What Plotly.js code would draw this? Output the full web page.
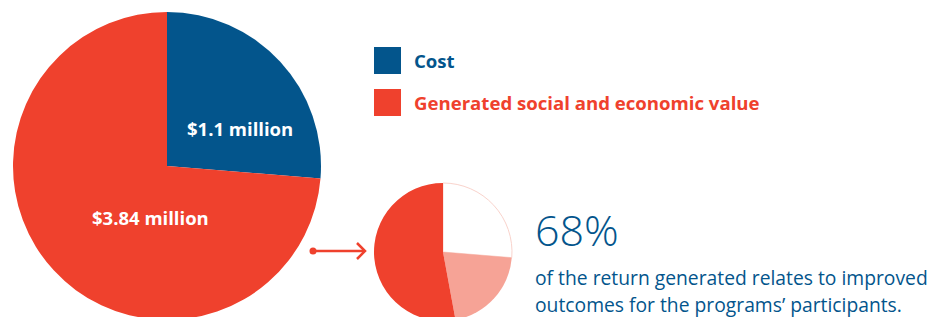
<!DOCTYPE html>
<html><head><meta charset="utf-8">
<script src="https://cdn.plot.ly/plotly-3.0.1.min.js"></script>
<style>html,body{margin:0;padding:0;overflow:hidden;background:#fff}#chart{width:931px;height:332px}</style>
</head><body><div id="chart"></div>
<script>
// ---- data ----
const categories = ["Cost", "Generated social and economic value"];
const amountLabels = ["$1.1 million", "$3.84 million"];
const mainShares = [26.3, 73.7];               // shares as drawn in the picture (%)
const breakdownLabels = ["Cost", "Other return", "Participant outcomes"];
const breakdownShares = [26.3, 20.8, 52.9];   // shares as drawn in the small pie (%)
const headline = "68%";
const headlineText = ["of the return generated relates to improved", "outcomes for the programs’ participants."];

const BLUE = "#03558C", RED = "#EF412D", PINK = "#F6A396";
const W = 931, H = 332;
const px = x => x / W, py = y => (H - y) / H;

const traces = [
  {type: "pie", values: mainShares, labels: categories, sort: false, direction: "clockwise", rotation: 0,
   marker: {colors: [BLUE, RED], line: {width: 0}}, textinfo: "none", hoverinfo: "label+percent",
   domain: {x: [px(13), px(321)], y: [py(320), py(12)]}, showlegend: false},
  {type: "pie", values: breakdownShares, labels: breakdownLabels, sort: false, direction: "clockwise", rotation: 0,
   marker: {colors: ["#FFFFFF", PINK, RED], line: {width: [1, 0, 0], color: ["#F9D3CC", PINK, RED]}}, textinfo: "none",
   domain: {x: [px(374), px(512)], y: [py(321), py(183)]}, showlegend: false}
];

const annotations = [
  {text: "<b>" + amountLabels[0] + "</b>", x: px(240), y: py(129), xanchor: "center", font: {family: "Open Sans", size: 18.5, color: "#fff"}},
  {text: "<b>" + amountLabels[1] + "</b>", x: px(150), y: py(218), xanchor: "center", font: {family: "Open Sans", size: 18.5, color: "#fff"}},
  {text: "<b>" + categories[0] + "</b>", x: px(412), y: py(60), xanchor: "left", font: {family: "Open Sans", size: 18.6, color: BLUE}},
  {text: "<b>" + categories[1] + "</b>", x: px(412), y: py(102), xanchor: "left", font: {family: "Open Sans", size: 18.6, color: RED}},
  {text: headline, x: px(533), y: py(230), xanchor: "left", font: {family: "Open Sans", size: 43, color: BLUE, weight: 300}},
  {text: headlineText[0], x: px(533), y: py(277), xanchor: "left", font: {family: "Open Sans", size: 19.3, color: BLUE}},
  {text: headlineText[1], x: px(533), y: py(304), xanchor: "left", font: {family: "Open Sans", size: 19.3, color: BLUE}}
].map(a => Object.assign({xref: "paper", yref: "paper", showarrow: false, yanchor: "middle"}, a));

const shapes = [
  {type: "rect", x0: px(374), x1: px(401), y0: py(47), y1: py(74), fillcolor: BLUE, line: {width: 0}},
  {type: "rect", x0: px(374), x1: px(401), y0: py(89), y1: py(116), fillcolor: RED, line: {width: 0}},
  {type: "line", x0: px(313), x1: px(364), y0: py(251), y1: py(251), line: {color: RED, width: 2.5}},
  {type: "circle", x0: px(309.5), x1: px(316.5), y0: py(247.5), y1: py(254.5), fillcolor: RED, line: {width: 0}},
  {type: "path", path: `M ${px(357)} ${py(243)} L ${px(365)} ${py(251)} L ${px(357)} ${py(259)}`, line: {color: RED, width: 2.5}}
].map(s => Object.assign({xref: "paper", yref: "paper"}, s));

Plotly.newPlot("chart", traces, {
  width: W, height: H, margin: {l: 0, r: 0, t: 0, b: 0},
  paper_bgcolor: "#fff", plot_bgcolor: "#fff",
  annotations, shapes, showlegend: false
}, {displayModeBar: false, staticPlot: true});
</script></body></html>
